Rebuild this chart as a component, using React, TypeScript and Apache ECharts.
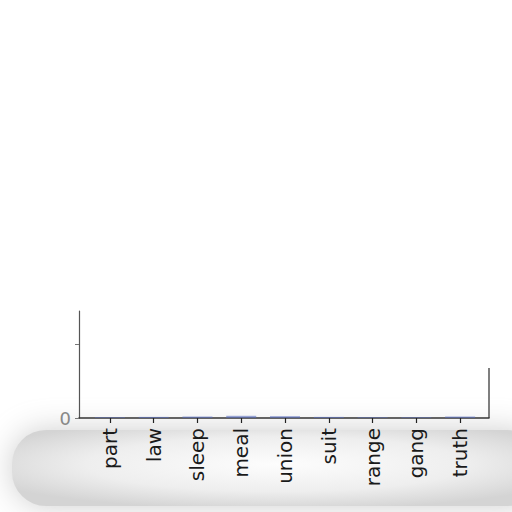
import React, { useEffect, useRef } from 'react';
import * as echarts from 'echarts';

const categories = ['part', 'law', 'sleep', 'meal', 'union', 'suit', 'range', 'gang', 'truth'];
const values = [0.01, 0.015, 0.02, 0.03, 0.025, 0.015, 0.01, 0.01, 0.02];
const yTicks = [0, 1];
const yLabels = [0];

const App: React.FC = () => {
  const chartRef = useRef<HTMLDivElement | null>(null);

  useEffect(() => {
    document.body.style.margin = '0';
    if (!chartRef.current) return;
    const chart = echarts.init(chartRef.current, undefined, { renderer: 'svg' });

    const font = "'DejaVu Sans', sans-serif";

    chart.setOption({
      animation: false,
      backgroundColor: '#ffffff',
      grid: [
        // frame grid: carries the axis lines
        { left: 79, right: 23, top: 311, bottom: 94 },
        // bar grid: the categories sit a little inside the frame
        { left: 88, right: 30, top: 311, bottom: 94 },
      ],
      xAxis: [
        {
          gridIndex: 0,
          type: 'value',
          min: 0,
          max: 1,
          axisLine: { show: true, lineStyle: { color: '#333', width: 1.5 } },
          axisTick: { show: false },
          axisLabel: { show: false },
          splitLine: { show: false },
        },
        {
          gridIndex: 1,
          type: 'category',
          data: categories,
          axisLine: { show: false },
          axisTick: { show: true, alignWithLabel: true, length: 5, lineStyle: { color: '#222', width: 1.2 } },
          axisLabel: {
            rotate: 90,
            interval: 0,
            color: '#1a1a1a',
            fontSize: 20,
            fontFamily: font,
            margin: 10,
          },
        },
      ],
      yAxis: [
        {
          gridIndex: 0,
          type: 'value',
          min: 0,
          max: 1.45,
          axisLine: { show: true, lineStyle: { color: '#555', width: 1.2 } },
          axisTick: { show: true, length: 4, customValues: yTicks, lineStyle: { color: '#777' } },
          axisLabel: { show: true, customValues: yLabels, color: '#888', fontSize: 18, fontFamily: font, margin: 8 },
          splitLine: { show: false },
        },
        {
          gridIndex: 1,
          type: 'value',
          min: 0,
          max: 1.45,
          show: false,
        },
      ],
      graphic: [
        {
          type: 'rect',
          z: -10,
          silent: true,
          shape: { x: 12, y: 430, width: 530, height: 76, r: 34 },
          style: {
            fill: new echarts.graphic.RadialGradient(0.5, 0.45, 0.6, [
              { offset: 0, color: '#fdfdfd' },
              { offset: 0.6, color: '#eeeeee' },
              { offset: 1, color: '#d4d4d4' },
            ]),
            shadowBlur: 30,
            shadowColor: 'rgba(200,200,200,0.9)',
          },
        },
        {
          type: 'line',
          silent: true,
          shape: { x1: 489, y1: 368, x2: 489, y2: 418 },
          style: { stroke: '#555', lineWidth: 1.5 },
        },
      ],
      series: [
        {
          type: 'bar',
          xAxisIndex: 1,
          yAxisIndex: 1,
          data: values,
          barWidth: 30,
          itemStyle: { color: 'rgba(90,110,190,0.6)' },
        },
      ],
    });

    return () => chart.dispose();
  }, []);

  return <div ref={chartRef} style={{ width: 512, height: 512 }} />;
};

export default App;
